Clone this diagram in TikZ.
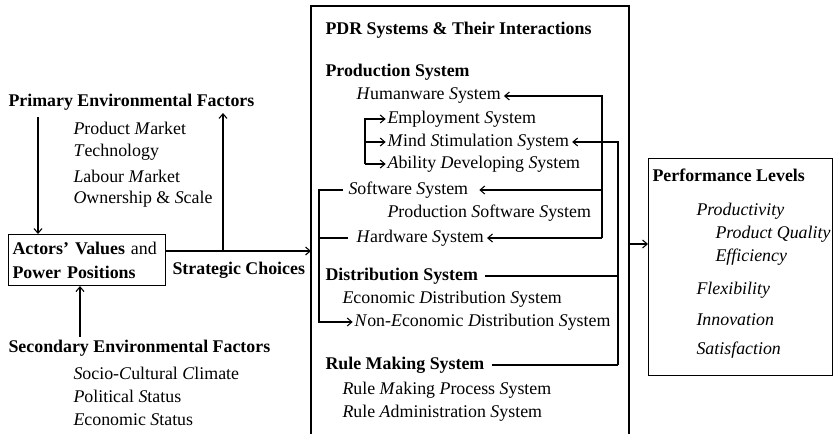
\documentclass[tikz,border=0pt]{standalone}
\usepackage{fontspec}
\setmainfont{Liberation Serif}
\usetikzlibrary{arrows.meta}

\newcommand{\ini}[1]{\textit{#1}}

\begin{document}
\begin{tikzpicture}[> = {Straight Barb[length = 3.5pt, width = 6pt]}, % arrow head style
                x = 0.75pt, y = -0.75pt, % one unit is one pixel of the scan
                line width = 0.8pt, % line style
                font = \fontsize{13.4}{18}\selectfont
            ]

            \tikzstyle{every node}=[anchor = west, inner sep = 0pt]
            \tikzstyle{head}=[font = \fontsize{13.4}{18}\selectfont\bfseries]
            \tikzstyle{box}=[draw, inner sep = 3pt]

            \useasboundingbox (0,0) rectangle (835,433);

            % environment and actors
            \node[head] (pef) at (8,102) {Primary Environmental Factors};
            \node (pm) at (73,128) {\ini{P}roduct \ini{M}arket};
            \node (tech) at (73,152) {\ini{T}echnology};
            \node (lab) at (73,176) {\ini{L}abour \ini{M}arket};
            \node (own) at (73,199) {\ini{O}wnership \& \ini{S}cale};
            \node[box, anchor = north west, align = left, text width = 111.75pt,
                minimum height = 38.25pt] (act) at (8,234)
                {\textbf{Actors' Values} and\\\textbf{Power Positions}};
            \node[head] (strat) at (172,270) {Strategic Choices};
            \node[head] (sef) at (8,348) {Secondary Environmental Factors};
            \node (scc) at (73,373) {\ini{S}ocio-\ini{C}ultural \ini{C}limate};
            \node (pol) at (73,396) {\ini{P}olitical \ini{S}tatus};
            \node (eco) at (73,420) {\ini{E}conomic \ini{S}tatus};

            % PDR systems
            \coordinate (mbl) at (311,440); \coordinate (mtl) at (311,6);
            \coordinate (mtr) at (629,6); \coordinate (mbr) at (629,440);
            \draw (mbl) -- (mtl) -- (mtr) -- (mbr);

            \node[head] (pdr) at (325,30) {PDR Systems \& Their Interactions};
            \node[head] (prod) at (325,72) {Production System};
            \node (hum) at (356,96) {\ini{H}umanware \ini{S}ystem};
            \node (emp) at (387,119) {\ini{E}mployment \ini{S}ystem};
            \node (mind) at (387,142) {\ini{M}ind \ini{S}timulation \ini{S}ystem};
            \node (abil) at (387,164) {\ini{A}bility \ini{D}eveloping \ini{S}ystem};
            \node (soft) at (348,190) {\ini{S}oftware \ini{S}ystem};
            \node (psoft) at (387,213) {\ini{P}roduction \ini{S}oftware \ini{S}ystem};
            \node (hard) at (356,238) {\ini{H}ardware \ini{S}ystem};
            \node[head] (dist) at (325,276) {Distribution System};
            \node (edist) at (342,299) {\ini{E}conomic \ini{D}istribution \ini{S}ystem};
            \node (nedist) at (354,322)
                {\ini{N}on-\ini{E}conomic \ini{D}istribution \ini{S}ystem};
            \node[head] (rule) at (325,365) {Rule Making System};
            \node (rmp) at (342,390) {\ini{R}ule \ini{M}aking \ini{P}rocess \ini{S}ystem};
            \node (radm) at (342,413) {\ini{R}ule \ini{A}dministration \ini{S}ystem};

            % performance
            \node[box, anchor = north west, minimum width = 138pt,
                minimum height = 162.75pt] (perf) at (648,158) {};
            \node[head] (pl) at (652,175) {Performance Levels};
            \node (prody) at (696,211) {\itshape Productivity};
            \node (qual) at (715,234) {\itshape Product Quality};
            \node (eff) at (715,257) {\itshape Efficiency};
            \node (flex) at (696,290) {\itshape Flexibility};
            \node (inno) at (696,320) {\itshape Innovation};
            \node (sat) at (696,350) {\itshape Satisfaction};

            % connectors on the left
            \coordinate (split) at (223,251); \coordinate (back) at (223,113);
            \draw[->] ([xshift = 22.5pt, yshift = -5pt]pef.south west) --
                ([xshift = 22.5pt]act.north west);
            \draw[->] ([xshift = 54pt, yshift = 2pt]sef.north west) --
                ([xshift = 54pt]act.south west);
            \draw[->] (act.east |- split) -- (mtl |- split);
            \draw[->] (split) -- (back);

            % connectors inside the PDR box
            \coordinate (hx) at (365,0); \coordinate (sx) at (319,0);
            \coordinate (rx) at (602,0); \coordinate (ry) at (618,0);
            \draw[->] (hx |- abil) -- (hx |- emp) -- ([xshift = -1pt]emp.west);
            \draw[->] (hx |- mind) -- ([xshift = -1pt]mind.west);
            \draw[->] (hx |- abil) -- ([xshift = -1pt]abil.west);
            \draw[->] ([xshift = -4pt]soft.west) -- (sx |- soft) -- (sx |- nedist)
                -- ([xshift = -1pt]nedist.west);
            \draw ([xshift = -6pt]hard.west) -- (sx |- hard);

            \draw[->] (rx |- hard) -- (rx |- hum) -- ([xshift = 2pt]hum.east);
            \draw[->] (rx |- soft) -- ([xshift = 8pt]soft.east);
            \draw[->] (rx |- hard) -- ([xshift = 2pt]hard.east);
            \draw[->] (ry |- rule) -- (ry |- mind) -- ([xshift = 2pt]mind.east);
            \draw ([xshift = 5pt]dist.east) -- (ry |- dist);
            \draw ([xshift = 5pt]rule.east) -- (ry |- rule);

            % to performance
            \coordinate (pa) at (629,244);
            \draw[->] (pa) -- (perf.west |- pa);
\end{tikzpicture}
\end{document}
